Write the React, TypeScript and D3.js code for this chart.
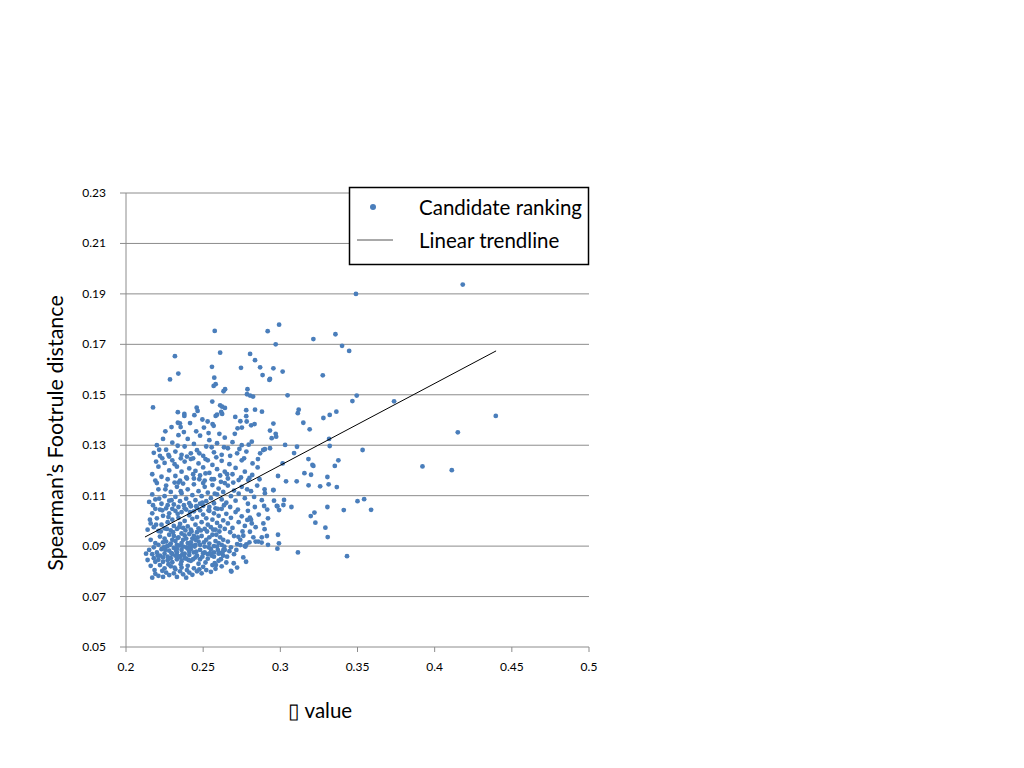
import * as d3 from 'd3'

// axis ticks
const xTicks = [0.2, 0.25, 0.3, 0.35, 0.4, 0.45, 0.5]
const yTicks = [0.05, 0.07, 0.09, 0.11, 0.13, 0.15, 0.17, 0.19, 0.21, 0.23]

// dense bottom-left cluster
const lowBand: [number, number][] = [
  [0.217, 0.0775], [0.219, 0.079], [0.221, 0.0782], [0.224, 0.0778], [0.226, 0.0795], [0.228, 0.0785],
  [0.231, 0.0792], [0.233, 0.0778], [0.235, 0.08], [0.237, 0.0788], [0.239, 0.0775], [0.241, 0.0795],
  [0.243, 0.0786], [0.246, 0.08], [0.249, 0.0792], [0.252, 0.0805], [0.255, 0.0798], [0.258, 0.081],
  [0.262, 0.082], [0.268, 0.0802], [0.272, 0.0815], [0.265, 0.0835], [0.26, 0.0842], [0.256, 0.0825],
  [0.25, 0.0818], [0.247, 0.083], [0.244, 0.0812], [0.24, 0.0822], [0.236, 0.0815], [0.232, 0.0808],
  [0.229, 0.082], [0.225, 0.0812], [0.222, 0.0825], [0.219, 0.0838], [0.216, 0.0822], [0.214, 0.0845],
  [0.218, 0.0852], [0.221, 0.0846], [0.224, 0.0838], [0.227, 0.0844], [0.23, 0.0836], [0.233, 0.0848],
  [0.236, 0.084], [0.239, 0.085], [0.242, 0.0842], [0.245, 0.0855], [0.248, 0.0848], [0.253, 0.085],
  [0.257, 0.0858], [0.263, 0.0862], [0.27, 0.0868], [0.276, 0.0855], [0.267, 0.088], [0.2698, 0.0832],
  [0.2778, 0.0838], [0.2683, 0.0799], [0.2583, 0.0825], [0.261, 0.0872],
]

const coreBand: [number, number][] = [
  [0.213, 0.087], [0.215, 0.0885], [0.217, 0.0868], [0.218, 0.0895], [0.22, 0.0875], [0.221, 0.0905],
  [0.222, 0.0862], [0.223, 0.0888], [0.224, 0.0915], [0.225, 0.087], [0.226, 0.0898], [0.227, 0.0858],
  [0.228, 0.0882], [0.229, 0.091], [0.23, 0.0868], [0.231, 0.0893], [0.232, 0.092], [0.233, 0.0875],
  [0.234, 0.086], [0.235, 0.0902], [0.236, 0.0885], [0.237, 0.0925], [0.238, 0.087], [0.239, 0.0895],
  [0.24, 0.0912], [0.241, 0.0865], [0.242, 0.0888], [0.243, 0.093], [0.244, 0.0875], [0.245, 0.0905],
  [0.246, 0.0862], [0.247, 0.0918], [0.248, 0.0885], [0.249, 0.094], [0.25, 0.0872], [0.251, 0.0898],
  [0.252, 0.0925], [0.253, 0.0868], [0.254, 0.091], [0.255, 0.0888], [0.256, 0.0945], [0.257, 0.0875],
  [0.258, 0.092], [0.259, 0.0898], [0.26, 0.087], [0.261, 0.0935], [0.262, 0.0905], [0.264, 0.0885],
  [0.266, 0.0918], [0.268, 0.0895], [0.27, 0.094], [0.272, 0.0908], [0.274, 0.0925], [0.277, 0.09],
  [0.28, 0.0915], [0.284, 0.0918], [0.288, 0.0935], [0.292, 0.0905], [0.216, 0.0925], [0.219, 0.0912],
  [0.222, 0.0938], [0.225, 0.093], [0.228, 0.0945], [0.231, 0.094], [0.234, 0.0935], [0.236, 0.095],
  [0.238, 0.0942], [0.241, 0.0948], [0.244, 0.094], [0.246, 0.0955], [0.229, 0.0852], [0.232, 0.0862],
  [0.235, 0.0856], [0.238, 0.0852], [0.241, 0.0878], [0.224, 0.0855], [0.227, 0.09], [0.23, 0.0925],
  [0.233, 0.0905], [0.237, 0.0898], [0.24, 0.089], [0.243, 0.0902], [0.226, 0.0918], [0.233, 0.089],
  [0.236, 0.0912], [0.239, 0.093], [0.242, 0.0915], [0.245, 0.0925], [0.248, 0.0905], [0.251, 0.0875],
  [0.254, 0.0935], [0.257, 0.09], [0.26, 0.0912], [0.263, 0.0925], [0.2898, 0.0967], [0.2913, 0.094],
  [0.2857, 0.0918], [0.2879, 0.0914], [0.2803, 0.0957], [0.276, 0.0941], [0.2728, 0.0937], [0.2741, 0.0904],
  [0.2774, 0.0898], [0.278, 0.0907], [0.2637, 0.0898], [0.2631, 0.0885],
]

const midBand: [number, number][] = [
  [0.214, 0.0965], [0.216, 0.099], [0.218, 0.0975], [0.22, 0.101], [0.221, 0.096], [0.223, 0.0985],
  [0.224, 0.102], [0.225, 0.097], [0.227, 0.0995], [0.228, 0.103], [0.229, 0.0962], [0.23, 0.1005],
  [0.231, 0.098], [0.232, 0.104], [0.233, 0.0968], [0.234, 0.1012], [0.235, 0.0988], [0.236, 0.1035],
  [0.237, 0.0972], [0.238, 0.1], [0.239, 0.1045], [0.24, 0.0978], [0.241, 0.1022], [0.242, 0.0965],
  [0.243, 0.1008], [0.244, 0.1038], [0.245, 0.0985], [0.246, 0.1015], [0.247, 0.097], [0.248, 0.1042],
  [0.249, 0.0995], [0.25, 0.1025], [0.251, 0.0968], [0.252, 0.101], [0.253, 0.0985], [0.254, 0.104],
  [0.255, 0.0975], [0.256, 0.1005], [0.257, 0.103], [0.258, 0.0965], [0.259, 0.0992], [0.26, 0.102],
  [0.261, 0.0978], [0.262, 0.1048], [0.263, 0.1002], [0.264, 0.0968], [0.265, 0.1028], [0.266, 0.099],
  [0.268, 0.1012], [0.269, 0.0972], [0.271, 0.1035], [0.273, 0.0995], [0.275, 0.1018], [0.277, 0.098],
  [0.279, 0.104], [0.281, 0.1005], [0.284, 0.0975], [0.286, 0.1025], [0.289, 0.099], [0.292, 0.101],
  [0.222, 0.1045], [0.226, 0.105], [0.23, 0.1048], [0.234, 0.1055], [0.238, 0.105], [0.242, 0.1058],
  [0.246, 0.1052], [0.25, 0.106], [0.254, 0.1055], [0.258, 0.105], [0.217, 0.103], [0.219, 0.1048],
  [0.2815, 0.099], [0.2803, 0.1013], [0.2786, 0.1004], [0.2895, 0.1059],
]

const upperBand: [number, number][] = [
  [0.215, 0.1075], [0.217, 0.1105], [0.219, 0.1085], [0.221, 0.1125], [0.223, 0.1068], [0.225, 0.1098],
  [0.226, 0.114], [0.228, 0.108], [0.229, 0.1115], [0.231, 0.1065], [0.232, 0.1095], [0.233, 0.1135],
  [0.235, 0.1078], [0.236, 0.111], [0.237, 0.1148], [0.239, 0.1088], [0.24, 0.1125], [0.241, 0.107],
  [0.243, 0.1102], [0.244, 0.1145], [0.245, 0.1082], [0.247, 0.1118], [0.248, 0.1068], [0.249, 0.1098],
  [0.251, 0.1135], [0.252, 0.1078], [0.253, 0.1112], [0.255, 0.109], [0.256, 0.1142], [0.257, 0.107],
  [0.259, 0.1105], [0.26, 0.1128], [0.262, 0.1085], [0.263, 0.1115], [0.265, 0.1072], [0.266, 0.114],
  [0.268, 0.1098], [0.27, 0.112], [0.271, 0.108], [0.273, 0.1108], [0.275, 0.1135], [0.277, 0.109],
  [0.279, 0.1068], [0.281, 0.1118], [0.283, 0.1095], [0.285, 0.114], [0.288, 0.1082], [0.29, 0.111],
  [0.22, 0.115], [0.234, 0.1152], [0.242, 0.106], [0.25, 0.115], [0.264, 0.115], [0.227, 0.1062],
  [0.217, 0.1185], [0.219, 0.116], [0.221, 0.1215], [0.223, 0.1175], [0.225, 0.123], [0.227, 0.1165],
  [0.228, 0.12], [0.23, 0.124], [0.232, 0.1178], [0.233, 0.1215], [0.235, 0.116], [0.236, 0.1195],
  [0.238, 0.1235], [0.239, 0.1172], [0.241, 0.1208], [0.242, 0.1245], [0.244, 0.1168], [0.245, 0.1198],
  [0.247, 0.1228], [0.248, 0.118], [0.25, 0.1212], [0.251, 0.116], [0.253, 0.124], [0.254, 0.119],
  [0.256, 0.1222], [0.257, 0.1165], [0.259, 0.1205], [0.261, 0.118], [0.262, 0.1238], [0.264, 0.1195],
  [0.266, 0.1168], [0.267, 0.1225], [0.269, 0.1185], [0.271, 0.121], [0.273, 0.1162], [0.275, 0.124],
  [0.277, 0.1195], [0.28, 0.117], [0.282, 0.1228], [0.2853, 0.1212], [0.2818, 0.1182], [0.2792, 0.1162],
  [0.2955, 0.1123], [0.2898, 0.1125],
]

// extra points filling the gaps of the thick cluster
const fillBand: [number, number][] = [
  [0.2185, 0.0805], [0.2205, 0.0862], [0.2235, 0.0802], [0.2255, 0.0885], [0.2275, 0.0828], [0.2295, 0.0872],
  [0.2315, 0.0815], [0.2335, 0.0932], [0.2355, 0.0828], [0.2375, 0.0865], [0.2395, 0.0805], [0.2415, 0.0902],
  [0.2435, 0.0848], [0.2455, 0.0878], [0.2475, 0.0808], [0.2495, 0.0858], [0.2515, 0.0835], [0.2535, 0.0895],
  [0.2555, 0.0862], [0.2575, 0.0832], [0.2595, 0.0885], [0.2615, 0.0848], [0.2655, 0.0858], [0.2225, 0.0958],
  [0.2245, 0.0895], [0.2265, 0.0968], [0.2285, 0.0905], [0.2305, 0.0955], [0.2325, 0.0882], [0.2345, 0.0975],
  [0.2365, 0.0868], [0.2385, 0.0962], [0.2405, 0.0845], [0.2425, 0.0958], [0.2445, 0.0898], [0.2465, 0.0935],
  [0.2485, 0.0962], [0.2505, 0.0915], [0.2525, 0.0958], [0.2545, 0.0872], [0.2565, 0.0965], [0.2585, 0.0945],
  [0.2605, 0.0958], [0.2625, 0.0875], [0.2675, 0.0955], [0.2715, 0.0885], [0.2755, 0.0958], [0.2825, 0.0935],
  [0.2155, 0.1005], [0.2175, 0.1062], [0.2195, 0.0985], [0.2215, 0.1088], [0.2235, 0.1042], [0.2255, 0.1125],
  [0.2275, 0.1015], [0.2295, 0.1082], [0.2315, 0.1152], [0.2335, 0.1028], [0.2355, 0.1118], [0.2375, 0.1062],
  [0.2395, 0.1168], [0.2415, 0.1035], [0.2435, 0.1185], [0.2455, 0.1058], [0.2475, 0.1165], [0.2495, 0.1072],
  [0.2515, 0.1188], [0.2535, 0.1042], [0.2555, 0.1165], [0.2575, 0.1108], [0.2595, 0.1048], [0.2615, 0.1155],
  [0.2635, 0.1062], [0.2655, 0.1185], [0.2675, 0.1055], [0.2695, 0.1152], [0.2725, 0.1045], [0.2745, 0.1172],
  [0.2785, 0.1125], [0.2835, 0.1055], [0.2865, 0.1165], [0.2915, 0.1045], [0.2195, 0.1235], [0.2215, 0.1282],
  [0.2235, 0.1248], [0.2255, 0.1355], [0.2275, 0.1262], [0.2295, 0.1372], [0.2315, 0.1225], [0.2335, 0.1298],
  [0.2355, 0.1248], [0.2375, 0.1352], [0.2395, 0.1255], [0.2415, 0.1388], [0.2435, 0.1248], [0.2455, 0.1355],
  [0.2475, 0.1268], [0.2495, 0.1402], [0.2515, 0.1245], [0.2535, 0.1348], [0.2555, 0.1292], [0.2585, 0.1252],
  [0.2605, 0.1345], [0.2635, 0.1292], [0.2675, 0.1258], [0.2705, 0.1345], [0.2735, 0.1285], [0.2765, 0.1248],
  [0.2795, 0.1302], [0.2855, 0.1245],
]

const highBand: [number, number][] = [
  [0.218, 0.127], [0.22, 0.13], [0.222, 0.1258], [0.224, 0.1325], [0.226, 0.1282], [0.228, 0.1255],
  [0.23, 0.131], [0.232, 0.1275], [0.234, 0.134], [0.236, 0.1262], [0.238, 0.1295], [0.24, 0.1325],
  [0.242, 0.1268], [0.244, 0.1305], [0.246, 0.128], [0.248, 0.1338], [0.25, 0.1258], [0.252, 0.1295],
  [0.254, 0.132], [0.257, 0.1272], [0.259, 0.1308], [0.262, 0.1262], [0.264, 0.133], [0.266, 0.1288],
  [0.269, 0.1312], [0.272, 0.1268], [0.275, 0.13], [0.278, 0.1275], [0.2889, 0.1281], [0.29, 0.1284],
  [0.2869, 0.1268], [0.2815, 0.1314], [0.2175, 0.145], [0.2559, 0.1473], [0.2458, 0.1449], [0.2464, 0.1436],
  [0.261, 0.1458], [0.2623, 0.1453], [0.2641, 0.1448], [0.2336, 0.1431], [0.2378, 0.1424], [0.2378, 0.1416],
  [0.2443, 0.1419], [0.2581, 0.1416], [0.259, 0.1421], [0.2617, 0.1432], [0.2623, 0.1424], [0.2779, 0.1439],
  [0.2779, 0.1415], [0.2836, 0.1441], [0.2881, 0.1433], [0.2336, 0.1389], [0.2349, 0.1387], [0.2354, 0.1372],
  [0.2529, 0.1394], [0.2561, 0.1384], [0.2568, 0.1377], [0.2708, 0.1412], [0.2741, 0.1395], [0.2782, 0.1394],
  [0.2833, 0.1384], [0.2811, 0.1379], [0.2505, 0.137], [0.2723, 0.1367], [0.2751, 0.137],
  [0.2575, 0.1753], [0.2918, 0.1752], [0.2317, 0.1653], [0.261, 0.1667], [0.2804, 0.1662], [0.2836, 0.1637],
  [0.2557, 0.1611], [0.2745, 0.1607], [0.2869, 0.1609], [0.2339, 0.1584], [0.2285, 0.1561], [0.2572, 0.1568],
  [0.2885, 0.1578], [0.2929, 0.1559], [0.2568, 0.1535], [0.2581, 0.1542], [0.2632, 0.1514], [0.2642, 0.1522],
  [0.2787, 0.1522], [0.2784, 0.1502], [0.2804, 0.1497], [0.2823, 0.1493],
]

// sparse points to the right of x = 0.29
const rightScatter: [number, number][] = [
  [0.4182, 0.1937], [0.349, 0.190], [0.2992, 0.1778], [0.3357, 0.174], [0.3214, 0.1721], [0.297, 0.170],
  [0.34, 0.1694], [0.3446, 0.1674], [0.2955, 0.1605], [0.3015, 0.1592], [0.2933, 0.1563], [0.3275, 0.1577],
  [0.3047, 0.1498], [0.3495, 0.1497], [0.3467, 0.1475], [0.3737, 0.1474], [0.4396, 0.1416], [0.3119, 0.1441],
  [0.3113, 0.1427], [0.3363, 0.1433], [0.332, 0.142], [0.3279, 0.1408], [0.2955, 0.1386], [0.3149, 0.1389],
  [0.319, 0.1363], [0.415, 0.1351], [0.2933, 0.1358], [0.297, 0.1345], [0.2973, 0.1334], [0.2944, 0.1328],
  [0.3316, 0.1325], [0.3031, 0.1301], [0.3108, 0.1294], [0.332, 0.1297], [0.2933, 0.1288], [0.3533, 0.1281],
  [0.3089, 0.1269], [0.3182, 0.1245], [0.3376, 0.124], [0.3015, 0.1228], [0.3208, 0.1222], [0.3214, 0.1218],
  [0.3353, 0.1218], [0.3921, 0.1216], [0.4111, 0.1201], [0.2985, 0.1178], [0.3156, 0.1189], [0.3199, 0.1183],
  [0.3305, 0.1174], [0.3037, 0.1157], [0.3106, 0.1157], [0.3183, 0.1141], [0.3258, 0.1137], [0.3313, 0.1145],
  [0.3366, 0.1134], [0.2955, 0.1121], [0.2959, 0.108], [0.3024, 0.1083], [0.35, 0.1078], [0.3543, 0.1086],
  [0.2981, 0.1058], [0.302, 0.1063], [0.2992, 0.1043], [0.3072, 0.1055], [0.3305, 0.1055], [0.3411, 0.1043],
  [0.3588, 0.1044], [0.3197, 0.1019], [0.3221, 0.1033], [0.3227, 0.0993], [0.3292, 0.0973], [0.3307, 0.0936],
  [0.2985, 0.0945], [0.2991, 0.0911], [0.2981, 0.089], [0.3114, 0.0875], [0.3432, 0.086], [0.2977, 0.1059],
]

// linear trendline end points
const trendX = [0.2123, 0.4398]
const trendY = [0.0936, 0.1674]

const legendItems = ['Candidate ranking', 'Linear trendline']

const points = [
  ...lowBand, ...coreBand, ...midBand, ...upperBand, ...fillBand, ...highBand, ...rightScatter,
]

const BLUE = '#4a7ebb'
const GRID = '#8c8c8c'
const FONT = 'Lato, "Open Sans", sans-serif'

export default function App() {
  const x = d3.scaleLinear().domain([0.2, 0.5]).range([126, 589])
  const y = d3.scaleLinear().domain([0.05, 0.23]).range([647, 193])

  const trend = d3
    .line<number>()
    .x(d => x(trendX[d]))
    .y(d => y(trendY[d]))([0, 1])

  return (
    <svg
      width={1024}
      height={768}
      style={{ position: 'absolute', left: 0, top: 0, background: '#fff' }}
      fontFamily={FONT}
    >
      {/* gridlines */}
      {yTicks.slice(1).map(t => (
        <line key={t} x1={x(0.2)} x2={x(0.5)} y1={y(t)} y2={y(t)} stroke={GRID} strokeWidth={1} />
      ))}

      {/* y axis */}
      <line x1={x(0.2)} x2={x(0.2)} y1={y(0.23)} y2={y(0.05)} stroke={GRID} />
      {yTicks.map(t => (
        <g key={t}>
          <line x1={x(0.2) - 6} x2={x(0.2)} y1={y(t)} y2={y(t)} stroke={GRID} />
          <text x={x(0.2) - 20} y={y(t) + 4} textAnchor="end" fontSize={12} fill="#000">
            {t.toFixed(2)}
          </text>
        </g>
      ))}

      {/* x axis */}
      <line x1={x(0.2)} x2={x(0.5)} y1={y(0.05)} y2={y(0.05)} stroke={GRID} />
      {xTicks.map(t => (
        <g key={t}>
          <line x1={x(t)} x2={x(t)} y1={y(0.05)} y2={y(0.05) + 5} stroke={GRID} />
          <text x={x(t)} y={y(0.05) + 24} textAnchor="middle" fontSize={12} fill="#000">
            {String(t)}
          </text>
        </g>
      ))}

      {/* points */}
      {points.map((p, i) => (
        <circle key={i} cx={x(p[0])} cy={y(p[1])} r={2.4} fill={BLUE} />
      ))}

      {/* trendline */}
      <path d={trend ?? ''} fill="none" stroke="#000" strokeWidth={1} />

      {/* legend */}
      <rect x={349.5} y={187.5} width={239} height={77} fill="#fff" stroke="#000" strokeWidth={1.5} />
      <circle cx={373} cy={207} r={3} fill={BLUE} />
      <line x1={357} x2={393} y1={240} y2={240} stroke="#555" strokeWidth={1} />
      {legendItems.map((s, i) => (
        <text key={s} x={419} y={215 + i * 33} fontSize={20.5} fill="#000">
          {s}
        </text>
      ))}

      {/* axis titles */}
      <text
        transform={`translate(63,${(y(0.05) + y(0.23)) / 2 + 13}) rotate(-90)`}
        textAnchor="middle"
        fontSize={21.5}
        fill="#000"
      >
        Spearman’s Footrule distance
      </text>
      <text x={320} y={718} textAnchor="middle" fontSize={20.5} fill="#000">
        ▯ value
      </text>
    </svg>
  )
}
